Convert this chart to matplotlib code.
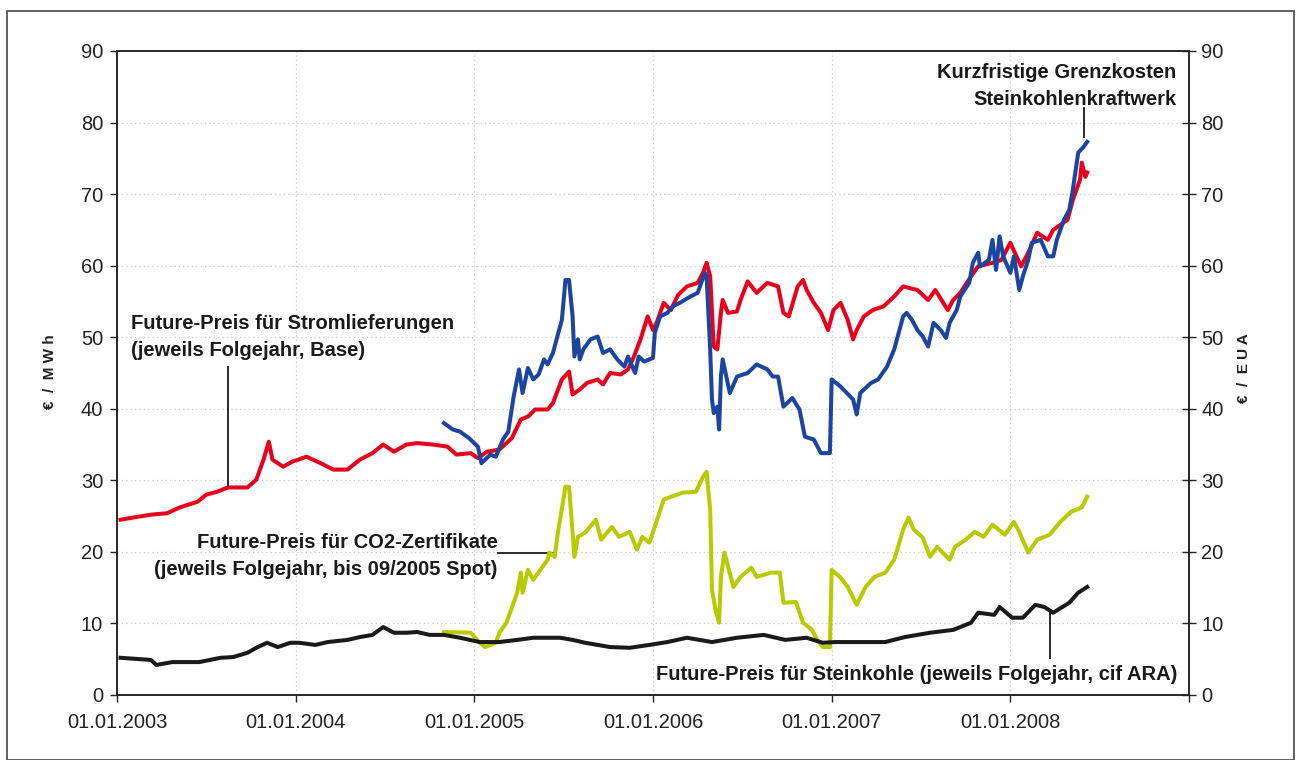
import numpy as np
import matplotlib
matplotlib.use("Agg")
import matplotlib.pyplot as plt
from matplotlib.patches import Rectangle

plt.rcParams['font.family'] = ['Liberation Sans', 'DejaVu Sans']

# Future-Preis Strom (Folgejahr, Base), Jahr als Dezimalzahl
strom_x = [2003.02, 2003.09, 2003.19, 2003.28, 2003.35, 2003.45, 2003.50, 2003.56, 2003.62, 2003.73,
           2003.78, 2003.82, 2003.85, 2003.87, 2003.93, 2003.98, 2004.06, 2004.14, 2004.21, 2004.29,
           2004.36, 2004.43, 2004.49, 2004.55, 2004.62, 2004.68, 2004.77, 2004.85, 2004.90, 2004.98,
           2005.02, 2005.07, 2005.14, 2005.21, 2005.26, 2005.30, 2005.34, 2005.41, 2005.44, 2005.49,
           2005.53, 2005.55, 2005.59, 2005.63, 2005.69, 2005.72, 2005.76, 2005.82, 2005.86, 2005.89,
           2005.93, 2005.97, 2006.00, 2006.02, 2006.06, 2006.10, 2006.14, 2006.19, 2006.25, 2006.28,
           2006.30, 2006.32, 2006.34, 2006.36, 2006.38, 2006.39, 2006.42, 2006.47, 2006.49, 2006.53,
           2006.58, 2006.64, 2006.70, 2006.73, 2006.76, 2006.81, 2006.84, 2006.86, 2006.90, 2006.94,
           2006.98, 2007.01, 2007.05, 2007.09, 2007.12, 2007.14, 2007.18, 2007.23, 2007.29, 2007.35,
           2007.40, 2007.48, 2007.54, 2007.58, 2007.65, 2007.68, 2007.72, 2007.78, 2007.82, 2007.90,
           2007.95, 2008.00, 2008.06, 2008.10, 2008.15, 2008.21, 2008.24, 2008.32, 2008.35, 2008.39,
           2008.40, 2008.42, 2008.43]
strom_y = [24.5, 24.8, 25.2, 25.4, 26.2, 27.0, 28.0, 28.4, 29.0, 29.0,
           30.1, 32.9, 35.4, 32.9, 31.9, 32.6, 33.3, 32.4, 31.5, 31.5,
           32.9, 33.8, 35.0, 34.0, 35.0, 35.2, 35.0, 34.7, 33.6, 33.8,
           33.1, 34.0, 34.3, 35.9, 38.5, 38.9, 39.9, 39.9, 40.8, 44.1,
           45.2, 42.0, 42.7, 43.6, 44.1, 43.4, 45.0, 44.8, 45.5, 47.1,
           49.7, 52.9, 51.0, 52.0, 54.8, 53.8, 55.9, 57.1, 57.6, 59.0,
           60.4, 58.5, 48.7, 48.3, 53.4, 55.2, 53.4, 53.6, 55.2, 57.8,
           56.2, 57.6, 57.1, 53.4, 52.9, 57.1, 58.0, 56.6, 54.8, 53.4,
           51.0, 53.8, 54.8, 52.4, 49.7, 51.0, 52.9, 53.8, 54.3, 55.7,
           57.1, 56.6, 55.2, 56.6, 53.8, 55.2, 56.2, 58.5, 59.9, 60.4,
           60.8, 63.2, 59.9, 61.8, 64.6, 63.6, 65.0, 66.4, 69.2, 72.0,
           74.4, 72.4, 73.0]

# Kurzfristige Grenzkosten Steinkohlenkraftwerk
grenz_x = [2004.83, 2004.88, 2004.92, 2004.97, 2005.02, 2005.04, 2005.09, 2005.12, 2005.16, 2005.19,
           2005.22, 2005.25, 2005.27, 2005.30, 2005.33, 2005.36, 2005.39, 2005.41, 2005.44, 2005.47,
           2005.49, 2005.51, 2005.53, 2005.55, 2005.56, 2005.58, 2005.59, 2005.61, 2005.65, 2005.69,
           2005.72, 2005.76, 2005.80, 2005.84, 2005.86, 2005.90, 2005.92, 2005.95, 2006.00, 2006.01,
           2006.04, 2006.08, 2006.11, 2006.15, 2006.21, 2006.25, 2006.29, 2006.30, 2006.32, 2006.33,
           2006.34, 2006.36, 2006.37, 2006.38, 2006.39, 2006.43, 2006.47, 2006.53, 2006.58, 2006.64,
           2006.67, 2006.70, 2006.73, 2006.78, 2006.82, 2006.85, 2006.90, 2006.94, 2006.99, 2007.00,
           2007.05, 2007.12, 2007.14, 2007.16, 2007.22, 2007.26, 2007.31, 2007.35, 2007.40, 2007.42,
           2007.45, 2007.48, 2007.51, 2007.54, 2007.57, 2007.61, 2007.64, 2007.66, 2007.70, 2007.72,
           2007.77, 2007.79, 2007.82, 2007.83, 2007.88, 2007.90, 2007.92, 2007.94, 2007.96, 2008.00,
           2008.02, 2008.05, 2008.07, 2008.10, 2008.12, 2008.17, 2008.21, 2008.24, 2008.26, 2008.30,
           2008.33, 2008.35, 2008.36, 2008.38, 2008.41, 2008.43]
grenz_y = [38.0, 37.1, 36.8, 35.9, 34.7, 32.4, 33.6, 33.3, 35.7, 36.8,
           41.7, 45.5, 42.2, 45.7, 44.1, 44.8, 46.9, 46.2, 47.8, 50.6,
           52.4, 58.0, 58.0, 52.9, 47.3, 49.7, 46.9, 48.3, 49.7, 50.1,
           47.8, 48.3, 46.9, 45.9, 47.3, 45.0, 47.3, 46.6, 47.1, 50.6,
           52.9, 53.4, 54.3, 54.8, 55.7, 56.2, 59.0, 58.5, 48.3, 41.3,
           39.4, 40.3, 37.1, 44.5, 46.9, 42.2, 44.5, 45.0, 46.2, 45.5,
           44.5, 44.5, 40.3, 41.5, 39.9, 36.1, 35.7, 33.8, 33.8, 44.1,
           43.1, 41.3, 39.2, 42.2, 43.6, 44.1, 45.9, 48.3, 52.9, 53.4,
           52.4, 51.0, 50.1, 48.7, 52.0, 51.0, 49.9, 52.0, 53.8, 55.7,
           57.6, 60.4, 61.8, 59.9, 60.8, 63.6, 59.4, 64.1, 61.3, 59.0,
           61.3, 56.6, 58.5, 60.8, 63.2, 63.6, 61.3, 61.3, 63.6, 66.4,
           67.8, 70.6, 72.4, 75.8, 76.6, 77.3]

# Future-Preis CO2-Zertifikate
co2_x = [2004.83, 2004.98, 2005.03, 2005.06, 2005.12, 2005.14, 2005.18, 2005.22, 2005.24, 2005.26,
         2005.27, 2005.30, 2005.33, 2005.37, 2005.41, 2005.42, 2005.45, 2005.47, 2005.48, 2005.51,
         2005.53, 2005.55, 2005.56, 2005.58, 2005.62, 2005.68, 2005.71, 2005.77, 2005.81, 2005.87,
         2005.91, 2005.94, 2005.98, 2006.01, 2006.06, 2006.10, 2006.17, 2006.24, 2006.28, 2006.30,
         2006.32, 2006.33, 2006.35, 2006.37, 2006.38, 2006.40, 2006.45, 2006.49, 2006.55, 2006.58,
         2006.66, 2006.71, 2006.73, 2006.80, 2006.84, 2006.89, 2006.92, 2006.95, 2006.99, 2007.00,
         2007.05, 2007.09, 2007.14, 2007.19, 2007.24, 2007.30, 2007.35, 2007.40, 2007.43, 2007.46,
         2007.51, 2007.55, 2007.59, 2007.66, 2007.69, 2007.75, 2007.80, 2007.85, 2007.90, 2007.97,
         2008.02, 2008.05, 2008.10, 2008.15, 2008.22, 2008.28, 2008.34, 2008.40, 2008.43]
co2_y = [8.8, 8.7, 7.3, 6.7, 7.3, 8.7, 10.1, 12.9, 14.3, 17.1,
         14.3, 17.5, 16.1, 17.5, 18.9, 19.9, 19.3, 23.1, 24.5, 29.1,
         29.1, 22.7, 19.3, 22.1, 22.7, 24.5, 21.7, 23.5, 22.1, 22.8,
         20.3, 22.1, 21.3, 23.5, 27.3, 27.7, 28.3, 28.4, 30.5, 31.2,
         25.9, 14.7, 11.9, 10.1, 16.5, 19.9, 15.1, 16.5, 17.8, 16.5,
         17.1, 17.1, 12.9, 13.0, 10.1, 9.1, 7.7, 6.7, 6.7, 17.5,
         16.4, 15.1, 12.6, 15.1, 16.5, 17.1, 18.9, 23.1, 24.8, 23.1,
         22.0, 19.3, 20.7, 18.9, 20.7, 21.7, 22.8, 22.1, 23.8, 22.4,
         24.2, 22.8, 19.9, 21.7, 22.4, 24.2, 25.6, 26.2, 27.7]

# Future-Preis Steinkohle (cif ARA)
kohle_x = [2003.02, 2003.19, 2003.22, 2003.31, 2003.46, 2003.58, 2003.65, 2003.73, 2003.78, 2003.84,
           2003.90, 2003.97, 2004.02, 2004.11, 2004.18, 2004.29, 2004.36, 2004.43, 2004.49, 2004.55,
           2004.62, 2004.68, 2004.75, 2004.83, 2004.92, 2005.03, 2005.14, 2005.24, 2005.33, 2005.48,
           2005.55, 2005.62, 2005.76, 2005.87, 2005.98, 2006.08, 2006.19, 2006.33, 2006.47, 2006.62,
           2006.74, 2006.86, 2006.95, 2007.02, 2007.13, 2007.30, 2007.41, 2007.55, 2007.68, 2007.78,
           2007.82, 2007.91, 2007.94, 2008.01, 2008.07, 2008.14, 2008.19, 2008.24, 2008.33, 2008.38,
           2008.43]
kohle_y = [5.2, 4.9, 4.2, 4.6, 4.6, 5.2, 5.3, 5.9, 6.6, 7.3,
           6.7, 7.3, 7.3, 7.0, 7.4, 7.7, 8.1, 8.4, 9.5, 8.7,
           8.7, 8.8, 8.4, 8.4, 8.0, 7.4, 7.4, 7.7, 8.0, 8.0,
           7.7, 7.3, 6.7, 6.6, 7.0, 7.4, 8.0, 7.4, 8.0, 8.4,
           7.7, 8.0, 7.3, 7.4, 7.4, 7.4, 8.1, 8.7, 9.1, 10.1,
           11.5, 11.2, 12.3, 10.8, 10.8, 12.6, 12.3, 11.5, 12.9, 14.3,
           15.1]

jahre = [2003, 2004, 2005, 2006, 2007, 2008, 2009]
jahr_labels = ['01.01.2003', '01.01.2004', '01.01.2005', '01.01.2006',
               '01.01.2007', '01.01.2008', '']
y_ticks = [0, 10, 20, 30, 40, 50, 60, 70, 80, 90]

fig = plt.figure(figsize=(12.96, 7.6), dpi=100)
W, H = 1296.0, 760.0
ax = fig.add_axes([117 / W, 1 - 695 / H, (1189 - 117) / W, (695 - 51) / H])

# Rahmen um die ganze Grafik
fig.patches.append(Rectangle((7 / W, 0.0), 1287 / W, 1 - 11 / H, transform=fig.transFigure,
                             fill=False, edgecolor='#555555', lw=1.3))

lw = 2.9
ax.plot(strom_x, strom_y, color='#e8001c', lw=lw, zorder=3)
ax.plot(grenz_x, grenz_y, color='#1c45a0', lw=lw, zorder=4)
ax.plot(co2_x, co2_y, color='#b6cc00', lw=lw, zorder=3)
ax.plot(kohle_x, kohle_y, color='#1a1a1a', lw=lw, zorder=3)

ax.set_xlim(2003, 2009)
ax.set_ylim(0, 90)
ax.set_xticks(jahre)
ax.set_xticklabels(jahr_labels)
ax.set_yticks(y_ticks)
ax.grid(True, color='#c8c8c8', linestyle=(0, (1, 2.5)), lw=0.9)
ax.set_axisbelow(True)
for s in ax.spines.values():
    s.set_color('#222222')
    s.set_linewidth(1.1)
ax.tick_params(axis='x', direction='out', length=5, width=1, labelsize=14.5, pad=8, colors='#222222')
ax.tick_params(axis='y', direction='out', length=5, width=1, labelsize=14.5, pad=5, colors='#222222')

ax2 = ax.twinx()
ax2.set_ylim(0, 90)
ax2.set_yticks(y_ticks)
ax2.tick_params(axis='y', direction='inout', length=10, width=1, labelsize=14.5, pad=4, colors='#222222')
for s in ax2.spines.values():
    s.set_color('#222222')
    s.set_linewidth(1.1)

fig.text(50 / W, 1 - 372 / H, '€  /  M W h', rotation=90, ha='center', va='center',
         fontsize=11, fontweight='bold', color='#222222')
fig.text(1244 / W, 1 - 368 / H, '€  /  E U A', rotation=90, ha='center', va='center',
         fontsize=11, fontweight='bold', color='#222222')

txt = dict(fontsize=14.5, fontweight='bold', color='#1a1a1a', linespacing=1.5)
ax.text(2003.08, 53.2, 'Future-Preis für Stromlieferungen\n(jeweils Folgejahr, Base)',
        ha='left', va='top', **txt)
ax.plot([2003.62, 2003.62], [45.9, 29.1], color='#1a1a1a', lw=1.3)

ax.text(2005.13, 22.6, 'Future-Preis für CO2-Zertifikate\n(jeweils Folgejahr, bis 09/2005 Spot)',
        ha='right', va='top', multialignment='right', **txt)
ax.plot([2005.13, 2005.45], [19.9, 19.9], color='#1a1a1a', lw=1.3)

ax.text(2008.93, 88.3, 'Kurzfristige Grenzkosten\nSteinkohlenkraftwerk',
        ha='right', va='top', multialignment='right', **txt)
ax.plot([2008.41, 2008.41], [82.1, 78.0], color='#1a1a1a', lw=1.3)

ax.text(2008.935, 2.9, 'Future-Preis für Steinkohle (jeweils Folgejahr, cif ARA)',
        ha='right', va='center', **txt)
ax.plot([2008.22, 2008.22], [11.5, 5.2], color='#1a1a1a', lw=1.3)

fig.savefig('out.png', dpi=100)
